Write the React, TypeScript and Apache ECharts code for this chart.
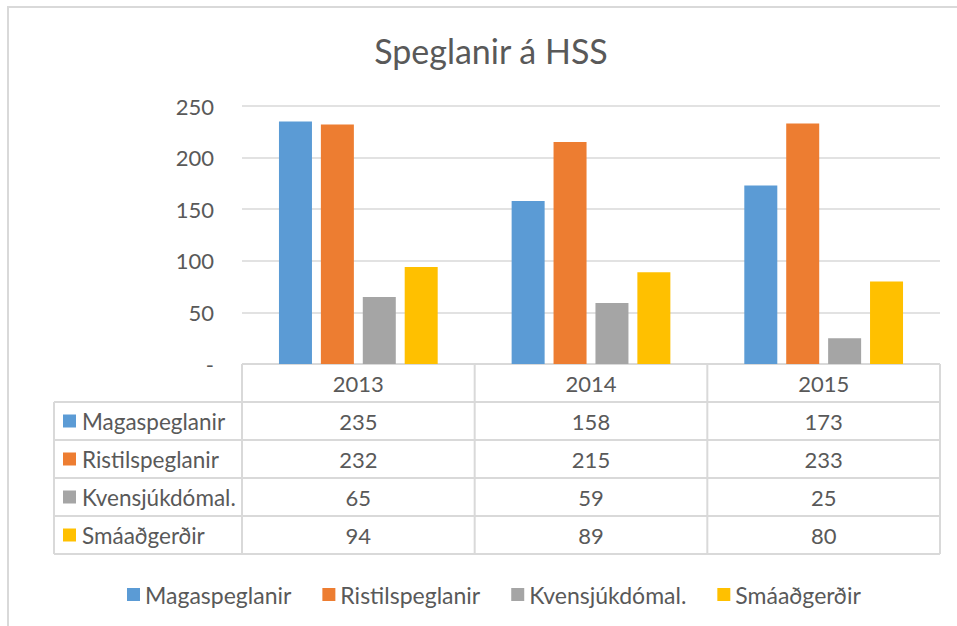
import React, { useEffect, useRef } from "react";
import * as echarts from "echarts";

const categories = ["2013", "2014", "2015"];
const seriesNames = ["Magaspeglanir", "Ristilspeglanir", "Kvensjúkdómal.", "Smáaðgerðir"];
const magaspeglanir = [235, 158, 173];
const ristilspeglanir = [232, 215, 233];
const kvensjukdomal = [65, 59, 25];
const smaadgerdir = [94, 89, 80];
const colors = ["#5B9BD5", "#ED7D31", "#A5A5A5", "#FFC000"];
const title = "Speglanir á HSS";

const FONT = "Lato, 'Noto Sans', sans-serif";
const TXT = "#595959";
const LINE = "#d9d9d9";

export default function App() {
  const ref = useRef<HTMLDivElement>(null);
  useEffect(() => {
    if (!ref.current) return;
    const chart = echarts.init(ref.current, null, { renderer: "svg" });
    const values = [magaspeglanir, ristilspeglanir, kvensjukdomal, smaadgerdir];

    const gridLeft = 242, gridRight = 940, gridTop = 106, gridBottom = 364;
    const labelLeft = 54;
    const rowYs = [364, 402, 440, 478, 516, 554];
    const colW = (gridRight - gridLeft) / categories.length;

    const graphics: any[] = [];
    graphics.push({
      type: "rect",
      shape: { x: 8, y: 7, width: 1000, height: 700 },
      style: { fill: "none", stroke: LINE, lineWidth: 2 },
      silent: true,
    });
    graphics.push({
      type: "line",
      shape: { x1: gridLeft, y1: rowYs[0], x2: gridRight, y2: rowYs[0] },
      style: { stroke: LINE, lineWidth: 2 },
    });
    for (let i = 1; i < rowYs.length; i++) {
      graphics.push({
        type: "line",
        shape: { x1: labelLeft, y1: rowYs[i], x2: gridRight, y2: rowYs[i] },
        style: { stroke: LINE, lineWidth: 2 },
      });
    }
    graphics.push({
      type: "line",
      shape: { x1: labelLeft, y1: rowYs[1], x2: labelLeft, y2: rowYs[rowYs.length - 1] },
      style: { stroke: LINE, lineWidth: 2 },
    });
    for (let c = 0; c <= categories.length; c++) {
      const x = gridLeft + c * colW;
      graphics.push({
        type: "line",
        shape: { x1: x, y1: rowYs[0], x2: x, y2: rowYs[rowYs.length - 1] },
        style: { stroke: LINE, lineWidth: 2 },
      });
    }
    categories.forEach((cat, c) => {
      graphics.push({
        type: "text",
        x: gridLeft + (c + 0.5) * colW,
        y: (rowYs[0] + rowYs[1]) / 2,
        style: { text: cat, fill: TXT, font: `22px ${FONT}`, align: "center", verticalAlign: "middle" },
      });
    });
    seriesNames.forEach((name, r) => {
      const yc = (rowYs[r + 1] + rowYs[r + 2]) / 2;
      graphics.push({
        type: "rect",
        shape: { x: 63, y: yc - 6.5, width: 13, height: 13 },
        style: { fill: colors[r] },
      });
      graphics.push({
        type: "text",
        x: 82,
        y: yc,
        style: { text: name, fill: TXT, font: `22.5px ${FONT}`, align: "left", verticalAlign: "middle" },
      });
      values[r].forEach((v, c) => {
        graphics.push({
          type: "text",
          x: gridLeft + (c + 0.5) * colW,
          y: yc,
          style: { text: String(v), fill: TXT, font: `22px ${FONT}`, align: "center", verticalAlign: "middle" },
        });
      });
    });

    chart.setOption({
      animation: false,
      color: colors,
      title: {
        text: title,
        left: 486,
        top: 28,
        textAlign: "center",
        textStyle: { fontFamily: FONT, fontSize: 34, fontWeight: "normal", color: TXT },
      },
      legend: {
        data: seriesNames,
        left: 122,
        top: 578,
        icon: "rect",
        itemWidth: 13,
        itemHeight: 13,
        itemGap: 31,
        textStyle: { fontFamily: FONT, fontSize: 23, color: TXT },
      },
      grid: { left: gridLeft, top: gridTop, width: gridRight - gridLeft, height: gridBottom - gridTop, containLabel: false },
      xAxis: {
        type: "category",
        data: categories,
        axisLine: { show: false },
        axisTick: { show: false },
        axisLabel: { show: false },
      },
      yAxis: {
        type: "value",
        min: 0,
        max: 250,
        interval: 50,
        axisLine: { show: false },
        axisTick: { show: false },
        splitLine: { lineStyle: { color: LINE, width: 1.5 } },
        axisLabel: {
          color: TXT,
          fontFamily: FONT,
          fontSize: 22,
          margin: 28,
          formatter: (v: number) => (v === 0 ? "-" : String(v)),
        },
      },
      series: seriesNames.map((name, i) => ({
        name,
        type: "bar",
        data: values[i],
        barWidth: 33,
        barGap: "27%",
      })),
      graphic: graphics,
    });
    return () => chart.dispose();
  }, []);
  return <div ref={ref} style={{ width: 957, height: 626, position: "absolute", left: 0, top: 0 }} />;
}
